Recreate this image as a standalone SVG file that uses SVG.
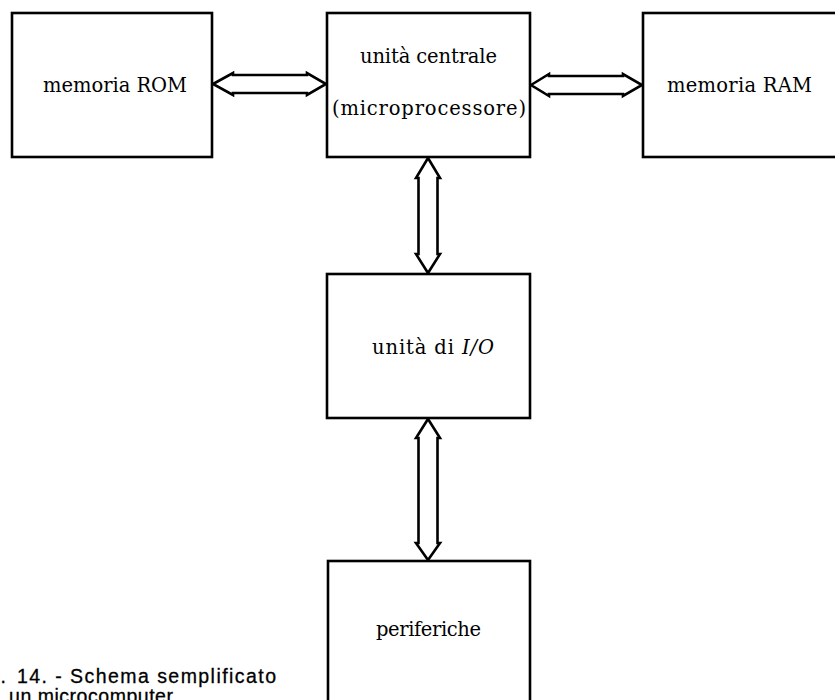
<svg xmlns="http://www.w3.org/2000/svg" width="835" height="700" viewBox="0 0 835 700">
  <style>
    .box { fill: #fff; stroke: #000; stroke-width: 2.6; }
    .bus { fill: #fff; stroke: #000; stroke-width: 2.6; stroke-linejoin: miter; }
    .lbl { font-family: "DejaVu Serif", "Liberation Serif", serif; font-size: 19.5px; fill: #000; }
    .cap { font-family: "Liberation Sans", Arial, sans-serif; font-size: 19.5px; fill: #000; stroke: #000; stroke-width: 0.3; }
  </style>
  <rect x="0" y="0" width="835" height="700" fill="#fff"/>

  <!-- bus connectors (double-headed block arrows) -->
  <g id="connectors">
    <polygon class="bus" points="213,84 233,73 233,75 307,75 307,73 326,84 307,95 307,93 233,93 233,95"/>
    <polygon class="bus" points="531,85 549,74 549,76 623,76 623,74 642,85 623,96 623,94 549,94 549,96"/>
    <polygon class="bus" points="428,158 440,178 437.5,178 437.5,254 440,254 428,273 416,254 418.5,254 418.5,178 416,178"/>
    <polygon class="bus" points="428,419 440,438 437.5,438 437.5,543 440,543 428,560 416,543 418.5,543 418.5,438 416,438"/>
  </g>

  <g id="rom">
    <rect class="box" x="12" y="13" width="200" height="144"/>
    <text class="lbl" x="43" y="92" textLength="144">memoria ROM</text>
  </g>

  <g id="cpu">
    <rect class="box" x="327" y="13" width="203" height="144"/>
    <text class="lbl" x="360" y="63" textLength="137">unità centrale</text>
    <text class="lbl" x="332" y="115" textLength="194">(microprocessore)</text>
  </g>

  <g id="ram">
    <rect class="box" x="643" y="13" width="210" height="144"/>
    <text class="lbl" x="667" y="92" textLength="145">memoria RAM</text>
  </g>

  <g id="io">
    <rect class="box" x="327" y="274" width="203" height="144"/>
    <text class="lbl" x="372" y="354" textLength="122">unità di <tspan font-style="italic">I/O</tspan></text>
  </g>

  <g id="peripherals">
    <rect class="box" x="328" y="561" width="202" height="160"/>
    <text class="lbl" x="376" y="636" textLength="105">periferiche</text>
  </g>

  <!-- figure caption, running off the lower left edge -->
  <g id="caption">
    <text class="cap" x="6" y="683" text-anchor="end">FIG.</text>
    <text class="cap" x="17" y="683" textLength="259">14. - Schema semplificato</text>
    <text class="cap" x="9" y="703" textLength="164">un microcomputer</text>
  </g>
</svg>
